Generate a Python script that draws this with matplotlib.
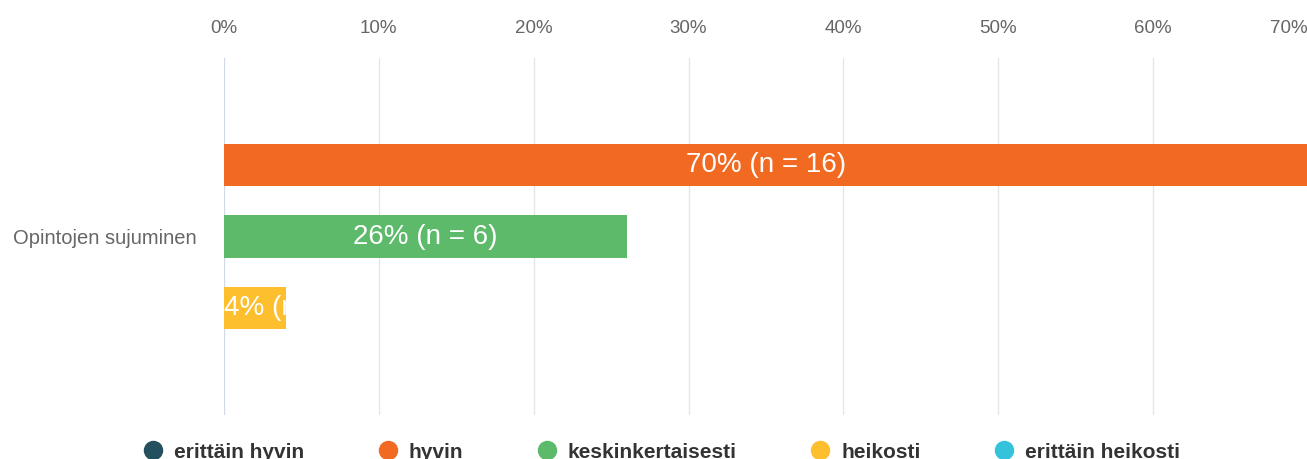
import numpy as np
import matplotlib.pyplot as plt
from matplotlib.lines import Line2D

# data
category = "Opintojen sujuminen"
series = ["erittäin hyvin", "hyvin", "keskinkertaisesti", "heikosti", "erittäin heikosti"]
percent = [0, 70, 26, 4, 0]
counts = [0, 16, 6, 1, 0]
colors = ["#244f5e", "#f26a22", "#5cba6a", "#fdbf2e", "#35c3dc"]
xticks = [0, 10, 20, 30, 40, 50, 60, 70]

plt.rcParams["font.family"] = ["Liberation Sans", "DejaVu Sans"]

W, H = 1307, 459
fig = plt.figure(figsize=(W / 100, H / 100), dpi=100)
ax = fig.add_axes([224 / W, 1 - 415 / H, (1308 - 224) / W, (415 - 58) / H])

n = len(series)
slot = 1.0 / n
pos = [(i + 0.5) * slot for i in range(n)]
for p, v, c, col in zip(pos, percent, counts, colors):
    if v <= 0:
        continue
    b = ax.barh(p, v, height=slot * 43 / 72, color=col, zorder=3)
    label = f"{v}% (n = {c})"
    if v < 10:
        # label doesn't fit: start at bar's left edge, clipped by the bar
        t = ax.text(0, p, label, ha="left", va="center",
                    color="white", fontsize=20, zorder=4)
    else:
        t = ax.text(v / 2, p, label, ha="center", va="center",
                    color="white", fontsize=20, zorder=4)
    t.set_clip_path(b[0])

ax.set_xlim(0, 70)
ax.set_ylim(1, 0)
ax.set_xticks(xticks)
ax.set_xticklabels([f"{x}%" for x in xticks])
ax.xaxis.tick_top()
ax.tick_params(axis="x", length=0, pad=15, labelsize=13.5, labelcolor="#666666")
ax.get_xticklabels()[-1].set_horizontalalignment("right")
ax.set_yticks([0.5])
ax.set_yticklabels([category])
ax.tick_params(axis="y", length=0, pad=20, labelsize=14.5, labelcolor="#666666")
ax.grid(axis="x", color="#e6e6e6", linewidth=1, zorder=0)
for s in ax.spines.values():
    s.set_visible(False)
ax.axvline(0, color="#ccd6eb", linewidth=1.2, zorder=2)

handles = [Line2D([], [], marker="o", linestyle="", markersize=13,
                  markerfacecolor=c, markeredgecolor=c) for c in colors]
fig.legend(handles, series, loc="center", bbox_to_anchor=(0.506, 1 - 452 / H),
           ncol=n, frameon=False, handlelength=1.0, handletextpad=0.5,
           columnspacing=3.52, prop={"size": 15, "weight": "bold"},
           labelcolor="#333333")

fig.savefig("out.png", dpi=100)
